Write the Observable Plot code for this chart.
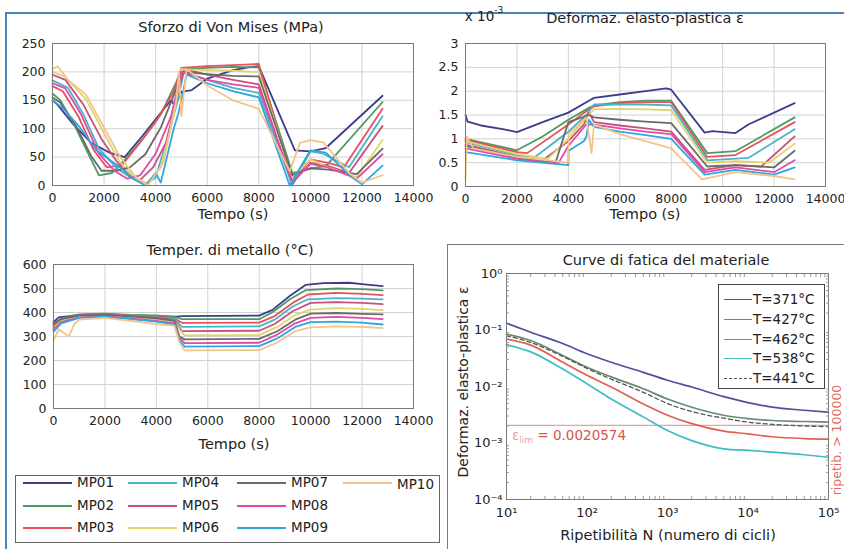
<!DOCTYPE html>
<html><head><meta charset="utf-8">
<script src="https://cdn.jsdelivr.net/npm/d3@7"></script>
<script src="https://cdn.jsdelivr.net/npm/@observablehq/plot@0.6"></script>
<style>
body{margin:0;background:#fff;}
#wrap{position:relative;width:844px;height:549px;overflow:hidden;background:#fff;font-family:"DejaVu Sans",sans-serif;color:#222;}
#wrap svg{position:absolute;overflow:visible;}
.t{position:absolute;white-space:nowrap;font-size:14.5px;line-height:1;}
.box{position:absolute;box-sizing:border-box;}
.seg{position:absolute;height:0;}
</style></head><body><div id="wrap"></div>
<script>
// ---------- DATA ----------
const seriesNames = ["MP01","MP02","MP03","MP04","MP05","MP06","MP07","MP08","MP09","MP10"];
const seriesColors = ["#3c3c8c","#4f9a63","#e8505a","#48b4c8","#c8507e","#e2d46a","#6a6a6a","#e04aa8","#2fa6e0","#f2c48a"];
const timeTicks = [0,2000,4000,6000,8000,10000,12000,14000];
const stressTicks = [0,50,100,150,200,250];
const strainTicks = [0,0.5,1,1.5,2,2.5,3];
const tempTicks = [0,100,200,300,400,500,600];

// Sforzo di Von Mises (MPa): [tempo s, valore]
const stressMP01 = [[0,150],[200,142],[800,108],[1500,75],[2200,58],[2800,50],[3500,88],[4200,128],[4600,150],[4750,140],[5000,165],[5400,168],[6000,188],[7000,203],[7600,208],[8000,210],[9400,62],[10000,60],[10600,66],[12800,158]];
const stressMP02 = [[0,162],[300,150],[900,102],[1400,55],[1800,18],[2300,22],[2800,45],[3500,82],[4200,125],[4800,182],[5000,205],[6000,207],[7000,209],[8000,208],[9300,22],[10000,30],[10600,34],[12800,147]];
const stressMP03 = [[0,175],[400,166],[1000,122],[1600,62],[2100,32],[2700,36],[3300,70],[4000,112],[4700,165],[5000,207],[6000,210],[7000,212],[8000,214],[9300,8],[10000,46],[10700,40],[11300,32],[12800,135]];
const stressMP04 = [[0,185],[600,172],[1200,125],[1800,65],[2500,30],[3100,12],[3600,2],[4000,14],[4400,75],[4800,140],[5100,200],[6000,186],[7000,172],[8000,163],[9300,0],[10000,60],[10500,56],[11500,32],[12800,122]];
const stressMP05 = [[0,195],[500,186],[1200,142],[1900,82],[2500,42],[3000,16],[3400,10],[3900,32],[4400,75],[4800,150],[5100,205],[6000,195],[7000,186],[8000,178],[9300,4],[10000,40],[10600,36],[11500,22],[12800,105]];
const stressMP06 = [[0,200],[500,191],[1300,152],[2000,92],[2600,42],[3200,12],[3700,4],[4200,32],[4700,122],[5000,205],[6000,203],[7000,202],[8000,200],[9300,14],[10000,46],[10800,30],[11800,15],[12800,80]];
const stressMP07 = [[0,155],[300,146],[900,106],[1500,52],[1900,26],[2500,26],[3000,32],[3600,55],[4200,102],[4800,170],[5000,200],[6000,196],[7000,193],[8000,192],[9300,18],[10000,30],[10700,28],[11800,20],[12800,65]];
const stressMP08 = [[0,180],[500,171],[1100,126],[1800,56],[2400,26],[2900,12],[3400,18],[4000,56],[4600,122],[5000,200],[6000,186],[7000,178],[8000,172],[9300,6],[10000,38],[10600,33],[11800,12],[12800,55]];
const stressMP09 = [[0,150],[400,136],[1000,106],[1700,62],[2500,36],[3200,10],[3600,0],[4000,22],[4200,5],[4700,100],[4900,130],[5200,195],[6000,180],[7000,166],[8000,155],[9200,0],[10000,62],[10600,58],[11600,15],[12000,2],[12800,35]];
const stressMP10 = [[0,205],[200,210],[600,186],[1300,160],[2000,102],[2600,52],[3200,16],[3700,0],[4300,40],[4800,150],[4900,200],[5000,122],[5200,205],[6000,176],[7000,150],[8000,135],[9200,25],[9600,75],[10000,80],[10500,76],[11500,22],[12000,5],[12800,18]];

// Deformaz. elasto-plastica (x 10^-3)
const strainMP01 = [[0,1.5],[80,1.36],[600,1.28],[1500,1.2],[2000,1.14],[3000,1.35],[4000,1.55],[4800,1.8],[5000,1.86],[6000,1.93],[7000,2.0],[7800,2.06],[8000,2.03],[9300,1.13],[9600,1.16],[10500,1.12],[11000,1.3],[12800,1.75]];
const strainMP02 = [[0,1.0],[2000,0.76],[3000,1.05],[4000,1.4],[4800,1.65],[5000,1.7],[6000,1.77],[7000,1.8],[8000,1.8],[9400,0.7],[10500,0.74],[12800,1.45]];
const strainMP03 = [[0,0.98],[2000,0.72],[2400,0.7],[4000,1.3],[4800,1.62],[5000,1.68],[6000,1.75],[7000,1.77],[8000,1.77],[9400,0.62],[10500,0.66],[12800,1.35]];
const strainMP04 = [[0,0.93],[2000,0.66],[2700,0.62],[4000,1.15],[4700,1.5],[5000,1.72],[6000,1.72],[7000,1.72],[8000,1.7],[9400,0.55],[11000,0.6],[12800,1.2]];
const strainMP05 = [[0,0.88],[2000,0.62],[3000,0.55],[4000,0.95],[4600,1.3],[4800,1.55],[5000,1.35],[6000,1.28],[7000,1.22],[8000,1.15],[9300,0.35],[10500,0.45],[11500,0.42],[12800,1.05]];
const strainMP06 = [[0,0.95],[2000,0.68],[3200,0.58],[4000,1.0],[4700,1.45],[5000,1.62],[6000,1.63],[7000,1.62],[8000,1.6],[9400,0.5],[10500,0.53],[11800,0.5],[12800,0.9]];
const strainMP07 = [[0,0.85],[2000,0.6],[3500,0.5],[4000,1.35],[4800,1.5],[5000,1.45],[6000,1.4],[7000,1.36],[8000,1.33],[9400,0.42],[10500,0.45],[12000,0.4],[12800,0.75]];
const strainMP08 = [[0,0.8],[2000,0.58],[3600,0.48],[4000,0.85],[4700,1.3],[5000,1.3],[6000,1.22],[7000,1.15],[8000,1.1],[9300,0.3],[10500,0.4],[12000,0.3],[12800,0.55]];
const strainMP09 = [[0,0.72],[500,0.68],[2000,0.55],[4000,0.45],[4010,0.75],[4600,0.95],[4700,1.05],[4800,1.4],[5000,1.25],[6000,1.15],[7000,1.08],[8000,1.0],[9300,0.25],[10500,0.35],[12000,0.25],[12800,0.4]];
const strainMP10 = [[0,0.15],[50,1.05],[300,0.8],[2000,0.62],[4000,0.5],[4010,1.1],[4700,1.45],[4900,0.7],[5000,1.3],[6000,1.1],[7000,0.95],[8000,0.8],[9200,0.15],[10500,0.3],[12000,0.22],[12800,0.15]];

// Temper. di metallo (°C)
const tempMP01 = [[0,360],[200,380],[1000,390],[2000,392],[3000,388],[4000,385],[4800,383],[5000,385],[8000,387],[8500,410],[9200,470],[9800,515],[10500,522],[11500,524],[12000,518],[12800,510]];
const tempMP02 = [[0,350],[300,375],[1000,392],[2000,395],[3000,390],[4000,388],[4700,382],[5000,372],[8000,372],[8500,400],[9200,455],[9800,493],[11000,500],[12000,497],[12800,492]];
const tempMP03 = [[0,340],[300,372],[1000,388],[2000,393],[3000,386],[4000,383],[4700,375],[5000,357],[8000,358],[8600,385],[9300,440],[9900,475],[11000,482],[12000,478],[12800,472]];
const tempMP04 = [[0,330],[300,368],[1000,385],[2000,390],[3000,385],[4000,380],[4700,372],[5000,340],[8000,342],[8600,370],[9300,425],[9900,455],[11000,460],[12000,458],[12800,455]];
const tempMP05 = [[0,345],[300,370],[1000,386],[2000,390],[3000,383],[4000,378],[4700,368],[5000,322],[8000,324],[8600,352],[9300,405],[10000,440],[11000,443],[12000,440],[12800,435]];
const tempMP06 = [[0,335],[300,365],[1000,382],[2000,386],[3000,380],[4000,372],[4700,362],[4900,330],[5100,305],[8000,306],[8700,340],[9400,390],[10000,412],[11000,418],[12000,415],[12800,410]];
const tempMP07 = [[0,355],[300,372],[1000,388],[2000,390],[3000,384],[4000,376],[4700,365],[4900,300],[5100,288],[8000,290],[8700,322],[9400,370],[10000,395],[11000,398],[12000,394],[12800,392]];
const tempMP08 = [[0,330],[300,360],[1000,380],[2000,385],[3000,375],[4000,365],[4700,355],[4900,295],[5100,272],[8000,274],[8700,308],[9400,355],[10000,378],[11000,382],[12000,378],[12800,372]];
const tempMP09 = [[0,320],[300,355],[1000,378],[2000,383],[3000,372],[4000,362],[4700,350],[4900,285],[5100,258],[8000,260],[8700,292],[9400,340],[10000,360],[11000,362],[12000,358],[12800,350]];
const tempMP10 = [[0,285],[200,330],[600,300],[800,350],[1000,370],[2000,378],[3000,365],[4000,352],[4700,345],[4900,275],[5100,242],[8000,243],[8700,275],[9400,322],[10000,338],[11000,342],[12000,340],[12800,335]];

// Curve di fatica del materiale
const fatigueNames = ["T=371°C","T=427°C","T=462°C","T=538°C","T=441°C"];
const fatigueColors = ["#50509c","#6a8c6e","#e2604e","#3fbcc8","#555555"];
const fatigueN = [10,20,50,100,200,500,1000,2000,5000,10000,20000,50000,100000];
const eps371 = [0.132,0.0912,0.0575,0.038,0.0269,0.0178,0.0129,0.0098,0.0066,0.0052,0.0043,0.0038,0.0035];
const eps427 = [0.085,0.065,0.0355,0.0219,0.0148,0.0091,0.006,0.0043,0.0031,0.0027,0.0025,0.0024,0.00234];
const eps462 = [0.069,0.054,0.0269,0.0158,0.0098,0.0049,0.0031,0.0022,0.00162,0.00145,0.00129,0.0012,0.00117];
const eps538 = [0.055,0.041,0.0204,0.0112,0.006,0.0029,0.00166,0.0011,0.00079,0.00074,0.00069,0.00062,0.00056];
const eps441 = [0.079,0.060,0.034,0.0209,0.0135,0.0079,0.005,0.0036,0.00275,0.00234,0.00214,0.002,0.00195];
const epsLim = 0.0020574;
const logXTicks = [10,100,1000,10000,100000];
const logYTicks = [0.0001,0.001,0.01,0.1,1];

// ---------- DRAW ----------
const wrap = document.getElementById("wrap");
const FONT = "DejaVu Sans, sans-serif";
const TICKFONT = "12.5px";
const GRID = "#d2d2d2", FRAME = "#7a7a7a";

function addText(html, x, y, opts = {}) {
  const d = document.createElement("div");
  d.className = "t";
  d.innerHTML = html;
  d.style.left = x + "px"; d.style.top = y + "px";
  d.style.transform = `translate(-50%,-50%)${opts.rotate ? " rotate(" + opts.rotate + "deg)" : ""}`;
  if (opts.color) d.style.color = opts.color;
  if (opts.size) d.style.fontSize = opts.size + "px";
  wrap.appendChild(d);
  return d;
}
function place(svg, left, top) {
  svg.style.left = left + "px"; svg.style.top = top + "px";
  wrap.appendChild(svg);
}
function timePanel(arrays, cfg) {
  const data = [];
  arrays.forEach((pts, i) => pts.forEach(([t, v]) => data.push({t, v, s: seriesNames[i]})));
  const svg = Plot.plot({
    width: cfg.width, height: cfg.height,
    marginLeft: cfg.mL, marginRight: cfg.mR, marginTop: cfg.mT, marginBottom: cfg.mB,
    style: {fontFamily: FONT, fontSize: TICKFONT, color: "#222", background: "transparent", overflow: "visible"},
    x: {domain: [0, 14000]},
    y: {domain: cfg.yDomain},
    color: {domain: seriesNames, range: seriesColors},
    marks: [
      Plot.gridX(timeTicks, {stroke: GRID, strokeOpacity: 1, strokeWidth: 1}),
      Plot.gridY(cfg.yTicks, {stroke: GRID, strokeOpacity: 1, strokeWidth: 1}),
      Plot.line(data, {x: "t", y: "v", z: "s", stroke: "s", strokeWidth: 1.8}),
      Plot.frame({stroke: FRAME}),
      Plot.axisX(timeTicks, {tickSize: 0, tickPadding: 8, tickFormat: d => String(d), label: null}),
      Plot.axisY(cfg.yTicks, {tickSize: 0, tickPadding: 7, tickFormat: d => String(d), label: null})
    ]
  });
  place(svg, cfg.left, cfg.top);
}

// outer blue frame
const bf = document.createElement("div");
bf.className = "box";
Object.assign(bf.style, {left: "5px", top: "12px", width: "850px", height: "560px", borderTop: "2px solid #4a83b6", borderLeft: "2px solid #4a83b6"});
wrap.appendChild(bf);

// Panel 1
timePanel([stressMP01,stressMP02,stressMP03,stressMP04,stressMP05,stressMP06,stressMP07,stressMP08,stressMP09,stressMP10],
  {left: 0, top: 0, width: 440, height: 230, mL: 52, mR: 27, mT: 43, mB: 45, yDomain: [0, 250], yTicks: stressTicks});
addText("Sforzo di Von Mises (MPa)", 231, 27);
addText("Tempo (s)", 233, 214);

// Panel 2
timePanel([strainMP01,strainMP02,strainMP03,strainMP04,strainMP05,strainMP06,strainMP07,strainMP08,strainMP09,strainMP10],
  {left: 430, top: 0, width: 414, height: 230, mL: 35, mR: 19, mT: 43, mB: 44, yDomain: [0, 3], yTicks: strainTicks});
addText("Deformaz. elasto-plastica ε", 645, 18);
addText('x 10<sup style="font-size:9px;position:relative;top:-3px">-3</sup>', 484, 16, {size: 13.5});
addText("Tempo (s)", 645, 214);

// Panel 3
timePanel([tempMP01,tempMP02,tempMP03,tempMP04,tempMP05,tempMP06,tempMP07,tempMP08,tempMP09,tempMP10],
  {left: 0, top: 230, width: 440, height: 220, mL: 53, mR: 27, mT: 34, mB: 42, yDomain: [0, 600], yTicks: tempTicks});
addText("Temper. di metallo (°C)", 230, 250);
addText("Tempo (s)", 234, 444);

// Legend MP
const lg = document.createElement("div");
lg.className = "box";
Object.assign(lg.style, {left: "15px", top: "475px", width: "425px", height: "68px", border: "1.5px solid #666", background: "#fff"});
wrap.appendChild(lg);
const colX = [23, 128, 237, 343];
const rowY = [483, 506, 528];
const legOrder = [[0,1,2],[3,4,5],[6,7,8],[9]];
legOrder.forEach((col, ci) => col.forEach((si, ri) => {
  const s = document.createElement("div");
  s.className = "seg";
  Object.assign(s.style, {left: colX[ci] + "px", top: (rowY[ri] - 1) + "px", width: "49px", borderTop: "2px solid " + seriesColors[si]});
  wrap.appendChild(s);
  const t = addText(seriesNames[si], 0, 0, {size: 13.5});
  t.style.transform = "translate(0,-50%)";
  t.style.left = (colX[ci] + 54) + "px"; t.style.top = (rowY[ri] + (si === 9 ? 2 : 0)) + "px";
}));

// Panel 4 gray box
const gb = document.createElement("div");
gb.className = "box";
Object.assign(gb.style, {left: "447px", top: "244px", width: "420px", height: "320px", borderTop: "1.5px solid #7a7a7a", borderLeft: "1.5px solid #7a7a7a"});
wrap.appendChild(gb);

// Panel 4
const supMap = {"-": "⁻", "0": "⁰", "1": "¹", "2": "²", "3": "³", "4": "⁴", "5": "⁵"};
const pow10 = d => "10" + String(Math.round(Math.log10(d))).split("").map(c => supMap[c]).join("");
const fatigueArrays = [eps371, eps427, eps462, eps538, eps441];
const fatigueData = [];
fatigueArrays.forEach((arr, i) => arr.forEach((e, j) => fatigueData.push({n: fatigueN[j], e, s: fatigueNames[i]})));
const minorX = [], minorY = [];
for (const d of [10,100,1000,10000]) for (let k = 2; k <= 9; k++) minorX.push(d * k);
for (const d of [0.0001,0.001,0.01,0.1]) for (let k = 2; k <= 9; k++) minorY.push(d * k);
const svg4 = Plot.plot({
  width: 394, height: 299, marginLeft: 56, marginRight: 16, marginTop: 23, marginBottom: 50,
  style: {fontFamily: FONT, fontSize: "13px", color: "#222", background: "transparent", overflow: "visible"},
  x: {type: "log", domain: [10, 100000]},
  y: {type: "log", domain: [0.0001, 1]},
  color: {domain: fatigueNames, range: fatigueColors},
  marks: [
    Plot.ruleY([epsLim], {stroke: "#e8a0a8", strokeWidth: 1.3}),
    Plot.line(fatigueData.filter(d => d.s !== "T=441°C"), {x: "n", y: "e", z: "s", stroke: "s", strokeWidth: 1.7, curve: "monotone-x"}),
    Plot.line(fatigueData.filter(d => d.s === "T=441°C"), {x: "n", y: "e", stroke: "s", strokeWidth: 1.3, strokeDasharray: "4,3", curve: "monotone-x"}),
    Plot.frame({stroke: FRAME}),
    Plot.axisX(minorX, {anchor: "top", tickSize: -3, tickFormat: () => "", label: null, stroke: "#999"}),
    Plot.axisX(minorX, {anchor: "bottom", tickSize: -3, tickFormat: () => "", label: null, stroke: "#999"}),
    Plot.axisY(minorY, {anchor: "left", tickSize: -3, tickFormat: () => "", label: null, stroke: "#999"}),
    Plot.axisY(minorY, {anchor: "right", tickSize: -3, tickFormat: () => "", label: null, stroke: "#999"}),
    Plot.axisX(logXTicks, {tickSize: 0, tickPadding: 8, tickFormat: pow10, label: null}),
    Plot.axisY(logYTicks, {tickSize: 0, tickPadding: 4, tickFormat: pow10, label: null})
  ]
});
place(svg4, 450, 250);
addText("Curve di fatica del materiale", 666, 260);
addText("Ripetibilità N (numero di cicli)", 668, 535);
addText("Deformaz. elasto-plastica ε", 463, 382, {rotate: -90, size: 14});
addText("ripetib. &gt; 100000", 837, 440, {rotate: -90, color: "#e06a60", size: 12.5});
const lim = addText('<span style="color:#e8a0a8">ε<sub style="font-size:9px">lim</sub></span> <span style="color:#d9534f">= 0.0020574</span>', 0, 0, {size: 13.5});
lim.style.transform = "translate(0,-50%)";
lim.style.left = "512px"; lim.style.top = "437px";

// Legend T
const lt = document.createElement("div");
lt.className = "box";
Object.assign(lt.style, {left: "718px", top: "284px", width: "107px", height: "105px", border: "1px solid #444", background: "#fff"});
wrap.appendChild(lt);
const tRows = [300, 320, 340, 359, 379];
fatigueNames.forEach((nm, i) => {
  const s = document.createElement("div");
  s.className = "seg";
  Object.assign(s.style, {left: "724px", top: (tRows[i] - 1) + "px", width: "28px",
    borderTop: (i === 4 ? "1.5px dashed " : "1.7px solid ") + fatigueColors[i]});
  wrap.appendChild(s);
  const t = addText(nm, 0, 0, {size: 13.5});
  t.style.transform = "translate(0,-50%)";
  t.style.left = "753px"; t.style.top = tRows[i] + "px";
});
</script></body></html>
